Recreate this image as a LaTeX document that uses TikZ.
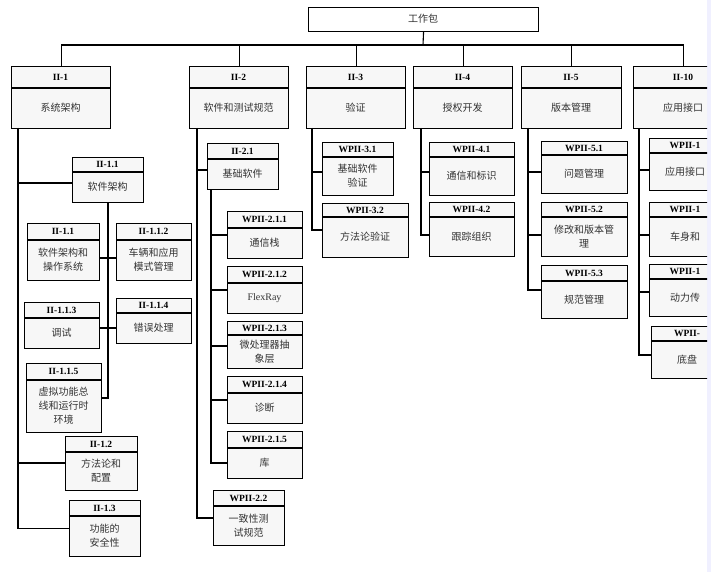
\documentclass[tikz,border=0pt]{standalone}
\usepackage{fontspec}
\setmainfont{Liberation Serif}
\newfontfamily\cjk{Noto Sans CJK SC}
\begin{document}
\begin{tikzpicture}[x=1pt,y=-1pt,line width=1.1pt,
  box/.style={draw,anchor=north west,inner sep=0pt,fill=#1},
  box/.default=white,
  lab/.style={font=\fontsize{9.5}{10}\selectfont\bfseries},
  txt/.style={font=\fontsize{10}{14}\cjk,align=center,text=black!80},
  con/.style={line width=1.1pt}]
\useasboundingbox (0,0) rectangle (711,572);
\fill[blue!6] (707,0) rectangle (711,572);
% #1 name #2 x #3 y #4 w #5 h #6 header h #7 label #8 text
\newcommand\wbx[8]{%
  \node[box=black!3,minimum width=#4pt,minimum height=#5pt] (#1) at (#2,#3) {};
  \draw (#2,#3+#6) -- ++(#4,0);
  \node[lab] at (#2+#4/2,#3+#6/2) {#7};
  \node[txt] at (#2+#4/2,#3+#6/2+#5/2) {#8};}
\begin{scope}
\clip (0,0) rectangle (707,572);
\node[box,minimum width=230pt,minimum height=24pt] (top) at (308,7) {};
\node[txt] at (423,19) {工作包};
\coordinate (bus) at (423,45);
% level 1
\wbx{n1}{11}{66}{99}{62}{22}{II-1}{系统架构}
\wbx{n2}{189}{66}{99}{62}{22}{II-2}{软件和测试规范}
\wbx{n3}{306}{66}{99}{62}{22}{II-3}{验证}
\wbx{n4}{413}{66}{99}{62}{22}{II-4}{授权开发}
\wbx{n5}{521}{66}{100}{62}{22}{II-5}{版本管理}
\wbx{n10}{633}{66}{100}{62}{22}{II-10}{应用接口}
\draw[con] (top.south) -- (bus);
\draw[con] (n1.north) |- (bus) -| (n10.north);
\foreach \n in {n2,n3,n4,n5}{\draw[con] (\n.north) -- (\n.north |- bus);}
% II-1 children
\wbx{c11}{72}{157}{71}{45}{15}{II-1.1}{软件架构}
\wbx{c111}{27}{223}{72}{57}{17}{II-1.1}{软件架构和\\操作系统}
\wbx{c112}{116}{223}{75}{57}{17}{II-1.1.2}{车辆和应用\\模式管理}
\wbx{c113}{24}{302}{75}{46}{16}{II-1.1.3}{调试}
\wbx{c114}{116}{298}{75}{45}{15}{II-1.1.4}{错误处理}
\wbx{c115}{26}{363}{75}{69}{17}{II-1.1.5}{虚拟功能总\\线和运行时\\环境}
\wbx{c12}{65}{436}{72}{54}{16}{II-1.2}{方法论和\\配置}
\wbx{c13}{69}{500}{71}{56}{16}{II-1.3}{功能的\\安全性}
\draw[con] (18,128) |- (c13.west);
\foreach \n/\y in {c11/183,c12/463}{\draw[con] (18,\y) -- (\n.west |- 0,\y);}
\draw[con] (108,202) |- (c115.east |- 0,398);
\draw[con] (c111.east |- 0,258) -- (c112.west |- 0,258);
\draw[con] (c113.east |- 0,328) -- (c114.west |- 0,328);
% II-2 children
\wbx{c21}{207}{143}{71}{46}{16}{II-2.1}{基础软件}
\wbx{w211}{227}{211}{75}{47}{17}{WPII-2.1.1}{通信栈}
\wbx{w212}{227}{266}{75}{47}{17}{WPII-2.1.2}{\rmfamily FlexRay}
\wbx{w213}{227}{321}{75}{47}{14}{WPII-2.1.3}{微处理器抽\\象层}
\wbx{w214}{227}{376}{75}{47}{17}{WPII-2.1.4}{诊断}
\wbx{w215}{227}{431}{75}{47}{17}{WPII-2.1.5}{库}
\wbx{w22}{213}{490}{71}{55}{16}{WPII-2.2}{一致性测\\试规范}
\draw[con] (197,128) |- (w22.west |- 0,518);
\draw[con] (197,170) -- (c21.west |- 0,170);
\draw[con] (211,189) |- (w215.west |- 0,463);
\foreach \n/\y in {w211/235,w212/290,w213/346,w214/400}{\draw[con] (211,\y) -- (\n.west |- 0,\y);}
% II-3
\wbx{w31}{322}{142}{71}{53}{15}{WPII-3.1}{基础软件\\验证}
\wbx{w32}{322}{203}{86}{54}{14}{WPII-3.2}{方法论验证}
\draw[con] (312,128) |- (w32.west |- 0,230);
\draw[con] (312,172) -- (w31.west |- 0,172);
% II-4
\wbx{w41}{429}{142}{85}{53}{15}{WPII-4.1}{通信和标识}
\wbx{w42}{429}{202}{85}{54}{15}{WPII-4.2}{跟踪组织}
\draw[con] (421,128) |- (w42.west |- 0,235);
\draw[con] (421,172) -- (w41.west |- 0,172);
% II-5
\wbx{w51}{541}{141}{86}{52}{14}{WPII-5.1}{问题管理}
\wbx{w52}{541}{202}{86}{54}{15}{WPII-5.2}{修改和版本管\\理}
\wbx{w53}{541}{265}{86}{53}{16}{WPII-5.3}{规范管理}
\draw[con] (528,128) |- (w53.west |- 0,290);
\foreach \n/\y in {w51/172,w52/235}{\draw[con] (528,\y) -- (\n.west |- 0,\y);}
% II-10
\wbx{w101}{649}{138}{72}{52}{15}{WPII-1}{应用接口}
\wbx{w102}{649}{202}{72}{54}{15}{WPII-1}{车身和}
\wbx{w103}{649}{264}{72}{52}{15}{WPII-1}{动力传}
\wbx{w104}{651}{326}{72}{52}{15}{WPII-}{底盘}
\draw[con] (639,128) |- (w104.west |- 0,355);
\foreach \n/\y in {w101/170,w102/235,w103/292}{\draw[con] (639,\y) -- (\n.west |- 0,\y);}
\end{scope}
\end{tikzpicture}
\end{document}
